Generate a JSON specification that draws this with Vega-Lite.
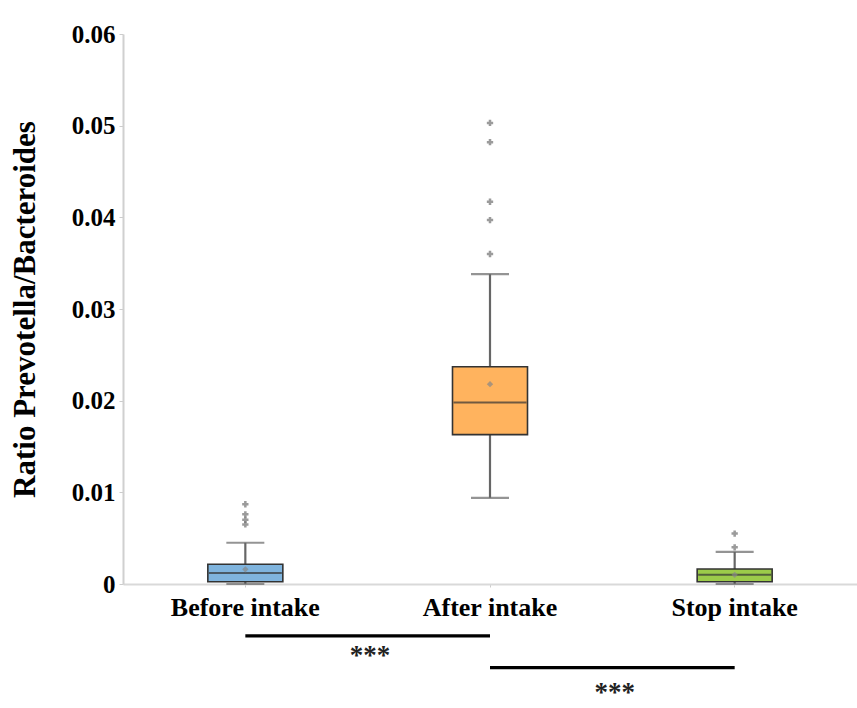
{
  "$schema": "https://vega.github.io/schema/vega-lite/v6.json",
  "width": 734,
  "height": 550,
  "autosize": {"type": "none"},
  "padding": {"left": 123, "top": 34, "right": 0, "bottom": 124},
  "background": "white",
  "config": {
    "view": {"stroke": null},
    "font": "Liberation Serif"
  },
  "datasets": {
    "stats": [
      {"group": "Before intake", "lower": 0.0, "q1": 0.00025, "median": 0.0012, "q3": 0.00215, "upper": 0.0045, "mean": 0.0016},
      {"group": "After intake", "lower": 0.0094, "q1": 0.0163, "median": 0.0198, "q3": 0.0237, "upper": 0.0338, "mean": 0.0218},
      {"group": "Stop intake", "lower": 0.0, "q1": 0.00025, "median": 0.001, "q3": 0.00164, "upper": 0.0035, "mean": 0.001}
    ],
    "outliers": [
      {"group": "Before intake", "value": 0.0087},
      {"group": "Before intake", "value": 0.0076},
      {"group": "Before intake", "value": 0.0070},
      {"group": "Before intake", "value": 0.0065},
      {"group": "After intake", "value": 0.0503},
      {"group": "After intake", "value": 0.0482},
      {"group": "After intake", "value": 0.0417},
      {"group": "After intake", "value": 0.0397},
      {"group": "After intake", "value": 0.0360},
      {"group": "Stop intake", "value": 0.0040},
      {"group": "Stop intake", "value": 0.0055}
    ],
    "sig": [
      {"from": "Before intake", "to": "After intake", "y": -0.00567, "ty": -0.00774, "label": "***"},
      {"from": "After intake", "to": "Stop intake", "y": -0.00913, "ty": -0.01178, "label": "***"}
    ]
  },
  "encoding": {
    "x": {
      "field": "group",
      "type": "nominal",
      "sort": ["Before intake", "After intake", "Stop intake"],
      "scale": {"domain": ["Before intake", "After intake", "Stop intake"], "paddingInner": 0, "paddingOuter": 0},
      "axis": {
        "title": null,
        "labelAngle": 0,
        "labelFont": "Liberation Serif",
        "labelFontWeight": "bold",
        "labelFontSize": 26,
        "labelColor": "#000",
        "labelPadding": 7,
        "domainColor": "#d9d9d9",
        "domainWidth": 2,
        "tickColor": "#cccccc",
        "tickSize": 3
      }
    }
  },
  "layer": [
    {
      "data": {"name": "stats"},
      "mark": {"type": "rule", "color": "#666666", "strokeWidth": 2.2},
      "encoding": {
        "y": {
          "field": "lower",
          "type": "quantitative",
          "scale": {"domain": [0, 0.06], "nice": false, "zero": true},
          "axis": {
            "title": "Ratio Prevotella/Bacteroides",
            "titleFont": "Liberation Serif",
            "titleFontWeight": "bold",
            "titleFontSize": 31,
            "titleColor": "#000",
            "titlePadding": 30,
            "values": [0, 0.01, 0.02, 0.03, 0.04, 0.05, 0.06],
            "format": "~g",
            "grid": false,
            "labelFont": "Liberation Serif",
            "labelFontWeight": "bold",
            "labelFontSize": 25,
            "labelColor": "#000",
            "labelPadding": 4,
            "domainColor": "#d0d0d0",
            "domainWidth": 2,
            "tickColor": "#cccccc",
            "tickSize": 4
          }
        },
        "y2": {"field": "upper"}
      }
    },
    {
      "data": {"name": "stats"},
      "mark": {"type": "tick", "color": "#666666", "thickness": 2.2, "size": 38},
      "encoding": {"y": {"field": "upper", "type": "quantitative"}}
    },
    {
      "data": {"name": "stats"},
      "mark": {"type": "tick", "color": "#666666", "thickness": 2.2, "size": 38},
      "encoding": {"y": {"field": "lower", "type": "quantitative"}}
    },
    {
      "data": {"name": "stats"},
      "mark": {"type": "bar", "size": 75, "stroke": "#333333", "strokeWidth": 1.6},
      "encoding": {
        "y": {"field": "q1", "type": "quantitative"},
        "y2": {"field": "q3"},
        "fill": {
          "field": "group",
          "type": "nominal",
          "scale": {"domain": ["Before intake", "After intake", "Stop intake"], "range": ["#7fb4de", "#ffb35e", "#9ccb4a"]},
          "legend": null
        }
      }
    },
    {
      "data": {"name": "stats"},
      "mark": {"type": "tick", "color": "#333333", "thickness": 2, "size": 73},
      "encoding": {"y": {"field": "median", "type": "quantitative"}}
    },
    {
      "data": {"name": "stats"},
      "mark": {"type": "point", "shape": "diamond", "filled": true, "color": "#888888", "size": 40},
      "encoding": {"y": {"field": "mean", "type": "quantitative"}}
    },
    {
      "data": {"name": "outliers"},
      "mark": {"type": "point", "shape": "cross", "filled": true, "color": "#707070", "size": 40},
      "encoding": {"y": {"field": "value", "type": "quantitative"}}
    },
    {
      "data": {"name": "sig"},
      "mark": {"type": "rule", "color": "#000000", "strokeWidth": 3.2},
      "encoding": {
        "x": {"field": "from", "type": "nominal", "bandPosition": 0.5},
        "x2": {"field": "to", "bandPosition": 0.5},
        "y": {"field": "y", "type": "quantitative"}
      }
    },
    {
      "data": {"name": "sig"},
      "mark": {"type": "text", "fontSize": 27, "fontWeight": "bold", "font": "Liberation Serif", "color": "#222222", "baseline": "middle", "align": "center", "dy": 1},
      "encoding": {
        "x": {"field": "from", "type": "nominal", "bandPosition": 1.01},
        "y": {"field": "ty", "type": "quantitative"},
        "text": {"field": "label"}
      }
    }
  ]
}
